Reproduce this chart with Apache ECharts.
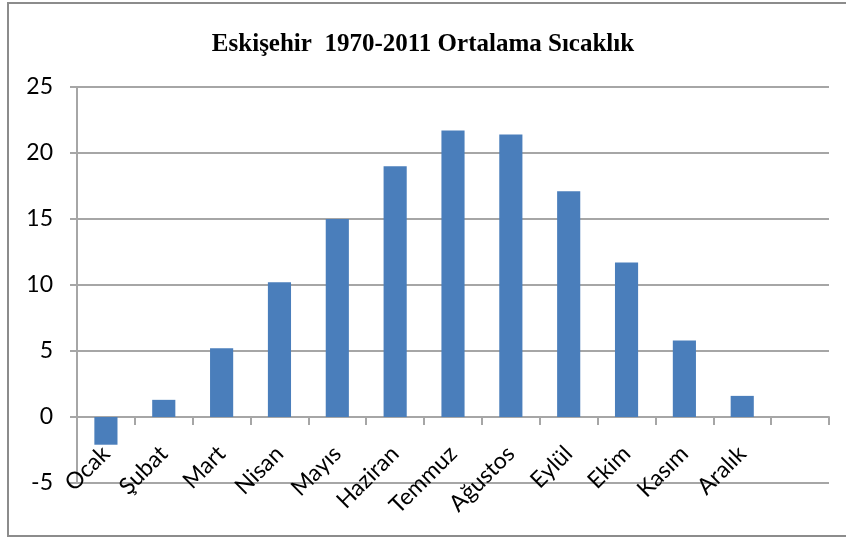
<!DOCTYPE html>
<html>
<head>
<meta charset="utf-8">
<script src="https://cdn.jsdelivr.net/npm/echarts@6/dist/echarts.min.js"></script>
<style>
  html, body { margin: 0; padding: 0; background: #fff; }
  #chart { width: 846px; height: 537px; }
</style>
</head>
<body>
<div id="chart"></div>
<script>
// Monthly mean temperature, Eskişehir 1970-2011 (°C)
const months = ['Ocak', 'Şubat', 'Mart', 'Nisan', 'Mayıs', 'Haziran',
                'Temmuz', 'Ağustos', 'Eylül', 'Ekim', 'Kasım', 'Aralık'];
const temperatures = [-2.1, 1.3, 5.2, 10.2, 15.0, 19.0, 21.7, 21.4, 17.1, 11.7, 5.8, 1.6];
// an empty slot closes the category axis on the right
const categories = months.concat(['']);
const titleText = 'Eskişehir  1970-2011 Ortalama Sıcaklık';
const yMin = -5, yMax = 25, yStep = 5;

const gridGray = '#a6a6a6';
const labelFont = 'Lato, "Open Sans", sans-serif';

const chart = echarts.init(document.getElementById('chart'));
chart.setOption({
  animation: false,
  backgroundColor: '#fff',
  title: {
    text: titleText,
    left: 'center',
    top: 27,
    textStyle: {
      fontFamily: '"Liberation Serif", "Times New Roman", serif',
      fontWeight: 'bold',
      fontSize: 25,
      color: '#000'
    }
  },
  graphic: [{
    type: 'rect',
    shape: { x: 8, y: 3, width: 900, height: 533 },
    style: { fill: 'none', stroke: '#8c8c8c', lineWidth: 2 },
    silent: true
  }],
  grid: {
    left: 77, right: 17, top: 87, bottom: 54,
    containLabel: false,
    outerBoundsMode: 'none'
  },
  xAxis: {
    type: 'category',
    data: categories,
    position: 'bottom',
    axisLine: { show: true, onZero: false, lineStyle: { color: gridGray, width: 2 } },
    axisTick: { show: true, length: 8, lineStyle: { color: gridGray, width: 2 } },
    axisLabel: {
      rotate: 45,
      margin: 33,
      interval: 0,
      fontFamily: labelFont,
      fontSize: 23,
      color: '#000'
    },
    splitLine: { show: false }
  },
  yAxis: {
    type: 'value',
    min: yMin,
    max: yMax,
    interval: yStep,
    axisLine: { show: true, onZero: false, lineStyle: { color: gridGray, width: 2 } },
    axisTick: { show: true, length: 7, lineStyle: { color: gridGray, width: 2 } },
    axisLabel: {
      margin: 24,
      fontFamily: labelFont,
      fontSize: 23,
      color: '#000'
    },
    splitLine: { show: true, lineStyle: { color: gridGray, width: 2 } }
  },
  series: [{
    type: 'bar',
    data: temperatures,
    barWidth: '40%',
    itemStyle: { color: '#4a7ebb' }
  }]
});

// Lift the category axis up to the zero line of the value axis
const zeroY = chart.convertToPixel({ yAxisIndex: 0 }, 0);
const floorY = chart.convertToPixel({ yAxisIndex: 0 }, yMin);
chart.setOption({ xAxis: { offset: -(floorY - zeroY) } });
</script>
</body>
</html>
